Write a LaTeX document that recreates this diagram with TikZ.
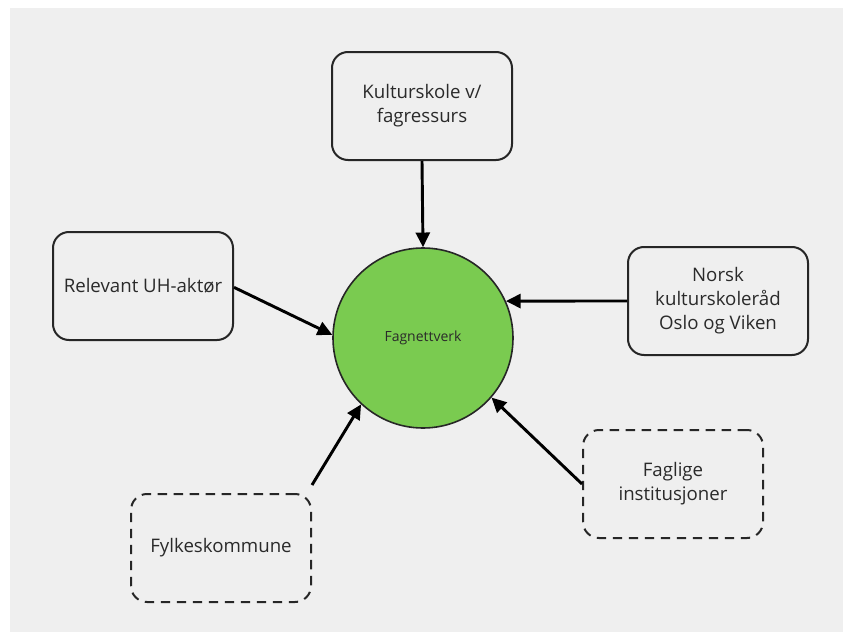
\documentclass[tikz,border=0pt]{standalone}
\usepackage{fontspec}
\setmainfont{Open Sans}
\usetikzlibrary{arrows.meta}
\definecolor{panel}{HTML}{EFEFEF}
\definecolor{txt}{HTML}{2A2A2A}
\definecolor{fag}{HTML}{7ACB50}
\begin{document}
\begin{tikzpicture}[x=0.75pt,y=-0.75pt,
  box/.style={draw=black!85, line width=1.5pt, rounded corners=12pt, minimum width=135pt, minimum height=81pt, align=center, text=txt, font=\fontsize{14}{18}\selectfont, inner sep=0pt},
  dbox/.style={box, dash pattern=on 7pt off 5pt},
  conn/.style={line width=2.2pt, -{Triangle[length=11pt,width=10.5pt]}}]
\useasboundingbox (0,0) rectangle (844,632);
\fill[white] (0,0) rectangle (844,632);
\fill[panel] (10,8) rectangle (843,632);
\node[box] (top) at (422,106) {Kulturskole v/\\fagressurs};
\node[box] (left) at (143,286) {Relevant UH-aktør};
\node[box] (right) at (718,301) {Norsk\\kulturskoleråd\\Oslo og Viken};
\node[dbox] (bl) at (221,548) {Fylkeskommune};
\node[dbox] (br) at (673,484) {Faglige\\institusjoner};
\node[circle, draw=black!85, line width=1.2pt, fill=fag, minimum size=135pt, inner sep=0pt, text=txt, font=\fontsize{10.5}{12}\selectfont] (fag) at (423,338) {Fagnettverk};
\draw[conn] (top.south) -- (fag.90);
\draw[conn] ([yshift=-1pt]left.east) -- (fag.178);
\draw[conn] (right.west) -- (fag.24);
\draw[conn] ([yshift=6pt]bl.north east) -- (fag.227);
\draw[conn] (br.west) -- (fag.319);
\end{tikzpicture}
\end{document}
